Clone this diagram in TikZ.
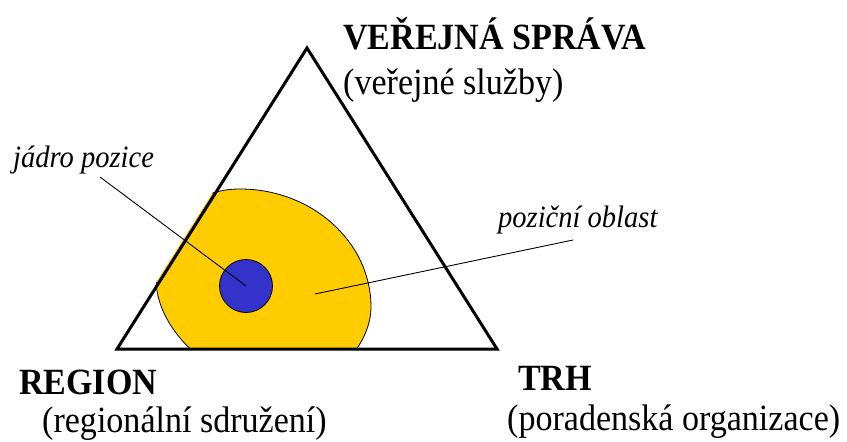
\documentclass[tikz,border=0pt]{standalone}
\usepackage{fontspec}
\setmainfont{Liberation Serif}
\newfontfamily\labelfont{Liberation Serif}
\usepackage{graphicx}
\usepackage{xcolor}
\usepackage{tikz}
\usetikzlibrary{calc,positioning}
\definecolor{posyellow}{RGB}{255,204,0}
\definecolor{coreblue}{RGB}{51,51,204}
\newcommand{\squeeze}[1]{\scalebox{0.92}[1]{#1}}

\begin{document}
\begin{tikzpicture}[
  x=1pt,y=-1pt,
  corner/.style={font=\labelfont\fontsize{37}{40}\selectfont\bfseries,anchor=base west,inner sep=0pt},
  role/.style={font=\labelfont\fontsize{37}{40}\selectfont,anchor=base west,inner sep=0pt},
  tag/.style={font=\labelfont\fontsize{31}{34}\selectfont\itshape,anchor=base west,inner sep=0pt},
  leader/.style={black,line width=0.9pt}
]
  \useasboundingbox (0,0) rectangle (847,442);
  \coordinate (vs) at (307,48);
  \coordinate (rg) at (117,349);
  \coordinate (th) at (497,349);

  % position area, cut by the triangle
  \begin{scope}
    \clip ($(vs)+(-3,0)$) -- ($(rg)+(-3,0)$) -- (th) -- cycle;
    \draw[fill=posyellow,line width=0.8pt] (240,189)
      .. controls (312,189) and (371,242) .. (371,307)
      .. controls (371,345) and (332,390) .. (280,390)
      .. controls (228,390) and (157,338) .. (156,280)
      .. controls (156,225) and (190,189) .. cycle;
  \end{scope}
  \node[circle,draw,fill=coreblue,minimum size=53pt,inner sep=0pt,line width=0.8pt] (core) at (246,286) {};
  \draw[line width=3pt] (vs) -- (rg) -- (th) -- cycle;

  \node[corner] (vsname) at (343,49) {\squeeze{VEŘEJNÁ SPRÁVA}};
  \node[role] (vsrole) at (343,94) {\squeeze{(veřejné služby)}};
  \node[corner] (rgname) at (19,394) {\squeeze{REGION}};
  \node[role] (rgrole) at (42,432) {\squeeze{(regionální sdružení)}};
  \node[corner] (thname) at (518,390) {\squeeze{TRH}};
  \node[role] (throle) at (507,430) {\squeeze{(poradenská organizace)}};

  \node[tag] (coretag) at (13,167) {\squeeze{jádro pozice}};
  \node[tag] (areatag) at (498,227) {\squeeze{poziční oblast}};
  \coordinate (corefoot) at (100,177);
  \coordinate (areafoot) at (573,240);
  \coordinate (areapt) at (315,294);
  \draw[leader] (corefoot) -- (core.center);
  \draw[leader] (areafoot) -- (areapt);
\end{tikzpicture}
\end{document}
